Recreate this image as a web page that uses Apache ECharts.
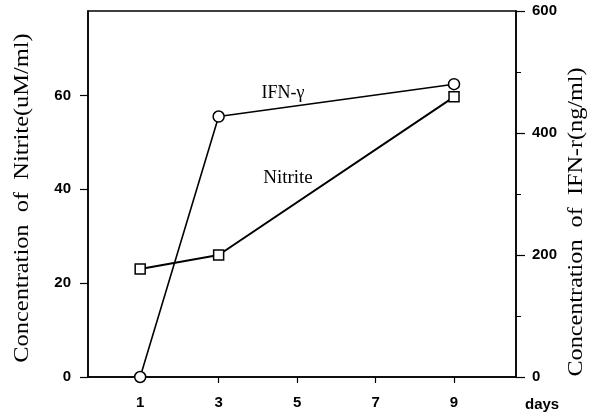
<!DOCTYPE html>
<html>
<head>
<meta charset="utf-8">
<script src="https://cdn.jsdelivr.net/npm/echarts@6/dist/echarts.min.js"></script>
<style>
  html, body { margin: 0; padding: 0; background: #fff; }
  #chart { width: 591px; height: 418px; }
</style>
</head>
<body>
<div id="chart"></div>
<script>
// Time points (days) and measured concentrations
const days = [1, 3, 9];
const nitrite = [23.0, 26.0, 59.7];      // uM/ml, left axis
const ifnGamma = [0, 427, 480];          // ng/ml, right axis
const dayTicks = [1, 3, 5, 7, 9];
const nitriteTicks = [0, 20, 40, 60];

const serif = '"Liberation Serif", "Times New Roman", serif';
const sans = '"Liberation Sans", Arial, sans-serif';

const chart = echarts.init(document.getElementById('chart'));

const tickLabel = { color: '#000', fontFamily: sans, fontSize: 15, fontWeight: 'bold' };

chart.setOption({
  animation: false,
  backgroundColor: '#fff',
  grid: {
    left: 88, right: 75, top: 11, bottom: 41,
    outerBoundsMode: 'none',
    containLabel: false,
    show: true, borderColor: '#000', borderWidth: 1.5, backgroundColor: 'transparent'
  },
  xAxis: {
    type: 'value',
    min: -0.33, max: 10.58,
    splitLine: { show: false },
    axisLine: { onZero: false, lineStyle: { color: '#000', width: 1.5 } },
    axisTick: { customValues: dayTicks, length: 6, lineStyle: { color: '#000', width: 1.2 } },
    axisLabel: Object.assign({ customValues: dayTicks, margin: 18 }, tickLabel)
  },
  yAxis: [
    {
      type: 'value',
      min: 0, max: 78,
      position: 'left',
      splitLine: { show: false },
      axisLine: { show: true, onZero: false, lineStyle: { color: '#000', width: 1.5 } },
      axisTick: { show: true, customValues: nitriteTicks, length: 8, lineStyle: { color: '#000', width: 1.2 } },
      axisLabel: Object.assign({ customValues: nitriteTicks, margin: 17 }, tickLabel)
    },
    {
      type: 'value',
      min: 0, max: 600, interval: 200,
      position: 'right',
      alignTicks: false,
      splitLine: { show: false },
      axisLine: { show: true, onZero: false, lineStyle: { color: '#000', width: 1.5 } },
      axisTick: { show: true, length: 9, lineStyle: { color: '#000', width: 1.2 } },
      minorTick: { show: true, splitNumber: 2, length: 5, lineStyle: { color: '#000', width: 1 } },
      axisLabel: Object.assign({ margin: 16 }, tickLabel)
    }
  ],
  graphic: [
    // rotated axis titles, stretched along the reading direction
    { type: 'text', x: 23, y: 198, rotation: Math.PI / 2, scaleX: 1.22,
      style: { text: 'Concentration  of  Nitrite(uM/ml)', fill: '#000', font: '20px ' + serif, align: 'center', verticalAlign: 'middle' } },
    { type: 'text', x: 577, y: 222, rotation: Math.PI / 2, scaleX: 1.21,
      style: { text: 'Concentration  of  IFN-r(ng/ml)', fill: '#000', font: '20px ' + serif, align: 'center', verticalAlign: 'middle' } },
    { type: 'text', left: 525, top: 397, style: { text: 'days', fill: '#000', font: 'bold 15px ' + sans } },
    { type: 'text', x: 283, y: 93, style: { text: 'IFN-\u03b3', fill: '#000', font: '18px ' + serif, align: 'center', verticalAlign: 'middle' } },
    { type: 'text', x: 288, y: 178, style: { text: 'Nitrite', fill: '#000', font: '19px ' + serif, align: 'center', verticalAlign: 'middle' } }
  ],
  series: [
    {
      name: 'Nitrite',
      type: 'line',
      yAxisIndex: 0,
      data: days.map((d, i) => [d, nitrite[i]]),
      symbol: 'rect',
      symbolSize: 10,
      lineStyle: { color: '#000', width: 2 },
      itemStyle: { color: '#fff', borderColor: '#000', borderWidth: 1.5 },
      z: 3
    },
    {
      name: 'IFN-\u03b3',
      type: 'line',
      yAxisIndex: 1,
      data: days.map((d, i) => [d, ifnGamma[i]]),
      symbol: 'circle',
      symbolSize: 11,
      lineStyle: { color: '#000', width: 1.6 },
      itemStyle: { color: '#fff', borderColor: '#000', borderWidth: 1.5 },
      z: 4
    }
  ]
});
</script>
</body>
</html>
